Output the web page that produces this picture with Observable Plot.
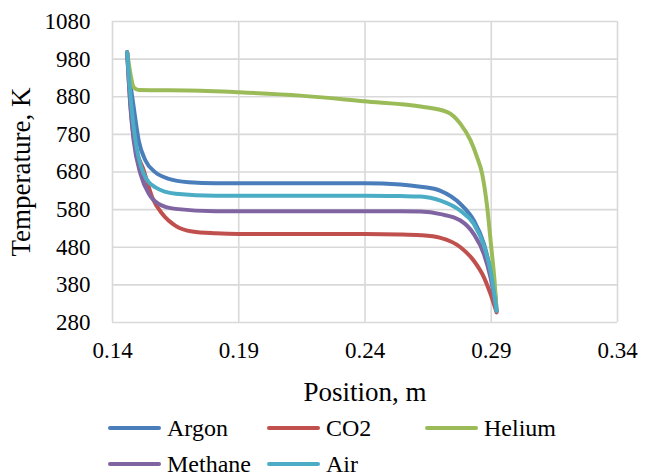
<!DOCTYPE html>
<html>
<head>
<meta charset="utf-8">
<script src="https://cdn.jsdelivr.net/npm/d3@7"></script>
<script src="https://cdn.jsdelivr.net/npm/@observablehq/plot@0.6"></script>
<style>
  html, body { margin: 0; padding: 0; background: #fff; }
  #wrap { position: relative; width: 650px; height: 474px; overflow: hidden; font-family: 'Liberation Serif', 'DejaVu Serif', serif; }
  #wrap svg { display: block; }
  .leg { position: absolute; display: flex; align-items: center; font-size: 24px; color: #000; white-space: nowrap; font-family: 'Liberation Serif', 'DejaVu Serif', serif; }
  .leg .sw { width: 53px; height: 4px; border-radius: 2px; margin-right: 6px; }
  #wrap svg text { font-family: 'Liberation Serif', 'DejaVu Serif', serif; }
</style>
</head>
<body>
<div id="wrap"></div>
<script>
// ---- data ----
const seriesNames = ["Argon", "CO2", "Helium", "Methane", "Air"];
const seriesColors = ["#4a7ebb", "#c0504d", "#9bbb59", "#8064a2", "#4bacc6"];

const argonPos  = [0.1458, 0.1470, 0.1484, 0.1504, 0.1531, 0.1570, 0.1623, 0.1702, 0.1808, 0.20, 0.22, 0.24, 0.2540, 0.2620, 0.2699, 0.2778, 0.2831, 0.2871, 0.2897, 0.2917, 0.2921];
const argonTemp = [998, 920, 852, 763, 710, 679, 662, 653, 650, 650, 650, 650, 647, 641, 630, 595, 551, 489, 418, 347, 311];

const co2Pos  = [0.1458, 0.1472, 0.1486, 0.1524, 0.1557, 0.1597, 0.1650, 0.1716, 0.1808, 0.19, 0.22, 0.24, 0.2540, 0.2620, 0.2699, 0.2778, 0.2831, 0.2871, 0.2897, 0.2921];
const co2Temp = [998, 852, 763, 684, 613, 569, 537, 522, 517, 515, 515, 515, 514, 512, 505, 480, 444, 400, 356, 307];

const heliumPos  = [0.1458, 0.1471, 0.1484, 0.1504, 0.1749, 0.19, 0.2145, 0.2395, 0.2620, 0.2726, 0.2778, 0.2818, 0.2844, 0.2864, 0.2884, 0.2900, 0.2913, 0.2921];
const heliumTemp = [998, 941, 905, 898, 896, 892, 883, 868, 854, 839, 808, 764, 719, 675, 586, 480, 391, 311];

const methanePos  = [0.1458, 0.1471, 0.1484, 0.1511, 0.1544, 0.1583, 0.1650, 0.1808, 0.20, 0.22, 0.24, 0.2540, 0.2620, 0.2699, 0.2778, 0.2831, 0.2871, 0.2897, 0.2921];
const methaneTemp = [998, 852, 763, 675, 622, 595, 582, 576, 576, 576, 576, 576, 575, 568, 551, 515, 462, 400, 311];

const airPos  = [0.1458, 0.1475, 0.1491, 0.1524, 0.1570, 0.1650, 0.1808, 0.20, 0.22, 0.24, 0.2540, 0.2620, 0.2699, 0.2778, 0.2831, 0.2871, 0.2897, 0.2921];
const airTemp = [998, 852, 763, 675, 639, 622, 617, 617, 617, 617, 616, 615, 604, 577, 542, 484, 418, 311];

const xTicks = [0.14, 0.19, 0.24, 0.29, 0.34];
const yTicks = [280, 380, 480, 580, 680, 780, 880, 980, 1080];
const xTitle = "Position, m";
const yTitle = "Temperature, K";

// ---- build table ----
const allPos = [argonPos, co2Pos, heliumPos, methanePos, airPos];
const allTemp = [argonTemp, co2Temp, heliumTemp, methaneTemp, airTemp];
const rows = [];
seriesNames.forEach((name, i) => {
  allPos[i].forEach((p, j) => rows.push({series: name, pos: p, temp: allTemp[i][j]}));
});

const font = "'Liberation Serif', 'DejaVu Serif', serif";
const gridColor = "#d9d9d9";

const chart = Plot.plot({
  width: 650,
  height: 474,
  marginLeft: 112,
  marginRight: 33,
  marginTop: 21,
  marginBottom: 152,
  style: {fontFamily: font, fontSize: "23px", color: "#000", background: "#fff"},
  x: {domain: [0.14, 0.34], ticks: xTicks},
  y: {domain: [280, 1080], ticks: yTicks},
  color: {domain: seriesNames, range: seriesColors},
  marks: [
    Plot.gridX(xTicks, {stroke: gridColor, strokeOpacity: 1, strokeWidth: 1.6}),
    Plot.gridY(yTicks, {stroke: gridColor, strokeOpacity: 1, strokeWidth: 1.6}),
    Plot.axisX(xTicks, {tickSize: 0, tickPadding: 19, tickFormat: d3.format(".2f"), label: null, fontSize: 23, fill: "#000"}),
    Plot.axisY(yTicks, {tickSize: 0, tickPadding: 22, tickFormat: d => String(d), label: null, fontSize: 23, fill: "#000"}),
    Plot.line(rows, {x: "pos", y: "temp", z: "series", stroke: "series", strokeWidth: 4, curve: "monotone-x", strokeLinejoin: "round", strokeLinecap: "round"}),
    Plot.text([xTitle], {frameAnchor: "bottom", textAnchor: "middle", lineAnchor: "middle", dy: 70, fontSize: 27, fill: "#000"}),
    Plot.text([yTitle], {frameAnchor: "left", textAnchor: "middle", lineAnchor: "middle", rotate: -90, dx: -91, fontSize: 27, fill: "#000"})
  ]
});

const wrap = document.getElementById("wrap");
wrap.appendChild(chart);

// ---- legend (HTML, below the plot area) ----
const legLayout = [[108, 428], [267, 428], [425, 428], [108, 464], [267, 464]];
seriesNames.forEach((name, i) => {
  const item = document.createElement("div");
  item.className = "leg";
  item.style.left = legLayout[i][0] + "px";
  item.style.top = (legLayout[i][1] - 15) + "px";
  item.style.height = "30px";
  const sw = document.createElement("span");
  sw.className = "sw";
  sw.style.background = seriesColors[i];
  const tx = document.createElement("span");
  tx.textContent = name;
  item.appendChild(sw);
  item.appendChild(tx);
  wrap.appendChild(item);
});
</script>
</body>
</html>
